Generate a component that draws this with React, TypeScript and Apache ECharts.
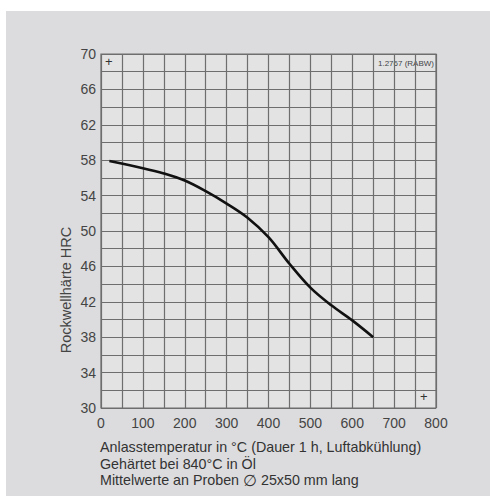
import React, { useEffect, useRef } from "react";
import * as echarts from "echarts";

const temperatures = [20, 100, 150, 200, 250, 300, 350, 400, 450, 500, 550, 600, 650];
const hardness = [57.9, 57.1, 56.5, 55.7, 54.5, 53.1, 51.5, 49.3, 46.3, 43.6, 41.6, 39.9, 38.0];
const xTickStep = 100;
const yTickStep = 4;
const yLabel = "Rockwellhärte HRC";
const captionLines = [
  "Anlasstemperatur in °C (Dauer 1 h, Luftabkühlung)",
  "Gehärtet bei 840°C in Öl",
];
const captionDiameterPre = "Mittelwerte an Proben ";
const captionDiameterSym = "\u2205";
const captionDiameterPost = " 25x50 mm lang";
const materialLabel = "1.2767 (RABW)";

export default function App() {
  const ref = useRef<HTMLDivElement>(null);
  useEffect(() => {
    document.body.style.margin = "0";
    const chart = echarts.init(ref.current!, null, { renderer: "svg" });
    const gridCol = "#6e6e6e";
    const font = "'Liberation Sans', Arial, sans-serif";
    const capStyle = { fill: "#333", fontSize: 14.3, fontFamily: font };
    chart.setOption({
      animation: false,
      backgroundColor: "transparent",
      grid: { left: 101, top: 54, width: 335, height: 354, show: true, backgroundColor: "#e3e3e4", borderColor: gridCol, borderWidth: 1.2 },
      xAxis: {
        type: "value", min: 0, max: 800, interval: xTickStep,
        axisLine: { show: false }, axisTick: { show: false },
        axisLabel: { color: "#444", fontSize: 14, fontFamily: font, margin: 8 },
        splitLine: { show: true, lineStyle: { color: gridCol, width: 1.2 } },
        minorTick: { show: false, splitNumber: 2 },
        minorSplitLine: { show: true, lineStyle: { color: gridCol, width: 1.2 } },
      },
      yAxis: {
        type: "value", min: 30, max: 70, interval: yTickStep,
        axisLine: { show: false }, axisTick: { show: false },
        axisLabel: { color: "#444", fontSize: 14, fontFamily: font, margin: 5 },
        splitLine: { show: true, lineStyle: { color: gridCol, width: 1.2 } },
        minorTick: { show: false, splitNumber: 2 },
        minorSplitLine: { show: true, lineStyle: { color: gridCol, width: 1.2 } },
      },
      series: [{
        type: "line",
        data: temperatures.map((t, i) => [t, hardness[i]]),
        smooth: 0.35,
        showSymbol: false,
        lineStyle: { color: "#111", width: 2.6 },
      }],
      graphic: [
        { type: "text", left: 105, top: 55, style: { text: "+", fill: "#333", fontSize: 13, fontFamily: font } },
        { type: "text", left: 420, top: 390, style: { text: "+", fill: "#333", fontSize: 13, fontFamily: font } },
        { type: "text", right: 56, top: 59, style: { text: materialLabel, fill: "#444", fontSize: 8, fontFamily: font } },
        { type: "text", x: 66, y: 290, rotation: Math.PI / 2, style: { text: yLabel, fill: "#444", fontSize: 14.5, fontFamily: font, align: "center", verticalAlign: "middle" } },
        ...captionLines.map((line, i) => ({
          type: "text", left: 100, top: 440 + i * 17,
          style: { text: line, ...capStyle },
        })),
        {
          type: "text", left: 100, top: 472,
          style: {
            text: `{a|${captionDiameterPre}}{d|${captionDiameterSym}}{a|${captionDiameterPost}}`,
            rich: {
              a: { ...capStyle },
              d: { fill: "#333", fontSize: 16, fontFamily: "'DejaVu Sans', sans-serif" },
            },
          },
        },
      ],
    });
    return () => chart.dispose();
  }, []);
  return (
    <div style={{ position: "relative", width: 490, height: 496, background: "#fff" }}>
      <div style={{ position: "absolute", left: 6, top: 11, right: 0, bottom: 0, background: "#dcdcde" }} />
      <div ref={ref} style={{ position: "absolute", left: 0, top: 0, width: 490, height: 496 }} />
    </div>
  );
}
